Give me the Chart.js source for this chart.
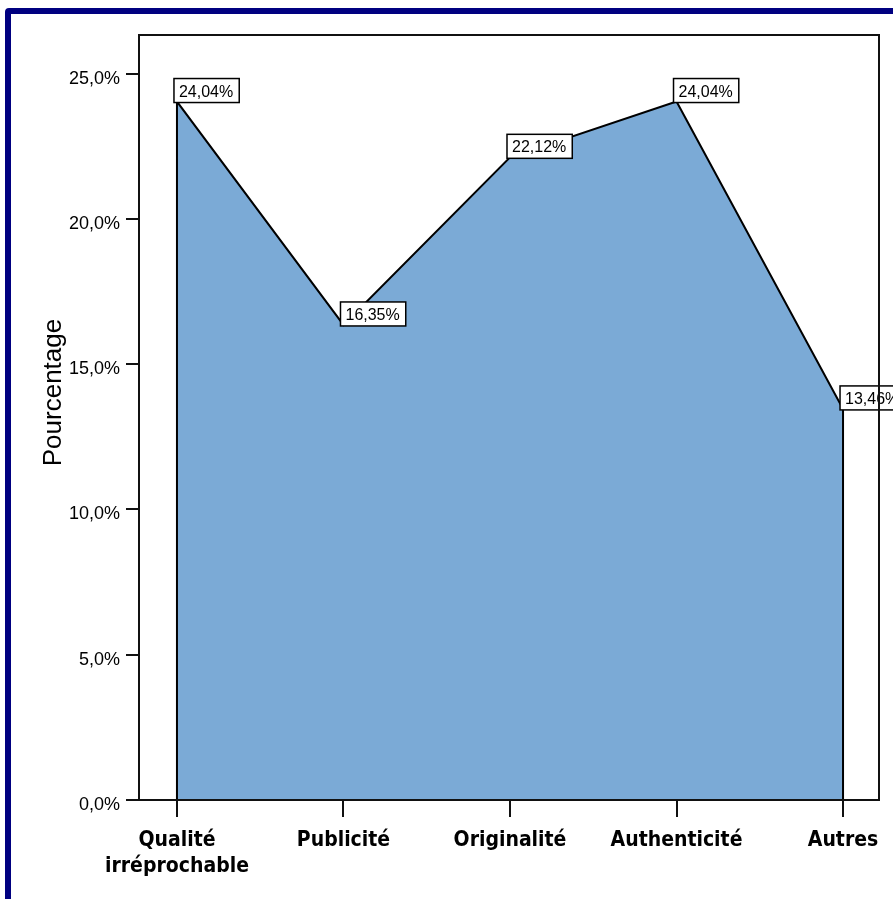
<!DOCTYPE html>
<html lang="fr">
<head>
<meta charset="utf-8">
<title>Pourcentage par critère</title>
<script src="https://cdn.jsdelivr.net/npm/chart.js@4/dist/chart.umd.min.js"></script>
<style>
  html, body { margin: 0; padding: 0; background: #fff; }
  body { width: 893px; height: 899px; position: relative; overflow: hidden; }
  #frame {
    position: absolute; left: 5px; top: 8px; width: 1000px; height: 1000px;
    border: 6px solid #000080; border-radius: 4px; box-sizing: border-box;
  }
  #wrap { position: absolute; left: 0; top: 0; width: 893px; height: 899px; }
</style>
</head>
<body>
<div id="frame"></div>
<div id="wrap"><canvas id="chart" width="893" height="899"></canvas></div>
<script>
// Categories along the horizontal axis
const categories = [["Qualité", "irréprochable"], "Publicité", "Originalité", "Authenticité", "Autres"];
// Share of responses per category (%)
const percentages = [24.04, 16.35, 22.12, 24.04, 13.46];
// Vertical axis tick values (%)
const yTickValues = [0, 5, 10, 15, 20, 25];
const yAxisTitle = "Pourcentage";

const AREA_FILL = "#7BAAD6";
const fmt = (v, d) => v.toFixed(d).replace(".", ",") + "%";

// Closed outline: the area starts and ends on the baseline
const outline = [{ x: 0, y: 0 }]
  .concat(percentages.map((v, i) => ({ x: i, y: v })))
  .concat([{ x: percentages.length - 1, y: 0 }]);

const plotFrame = {
  id: "plotFrame",
  afterDatasetsDraw(chart) {
    const { ctx, chartArea: a } = chart;
    ctx.save();
    ctx.strokeStyle = "#111";
    ctx.lineWidth = 2;
    ctx.strokeRect(a.left, a.top, a.right - a.left, a.bottom - a.top);
    ctx.restore();
  }
};

const valueBoxes = {
  id: "valueBoxes",
  afterDatasetsDraw(chart) {
    const { ctx, scales: { x, y } } = chart;
    ctx.save();
    ctx.font = "16px 'Liberation Sans', Arial, sans-serif";
    ctx.textBaseline = "alphabetic";
    percentages.forEach((v, i) => {
      const px = x.getPixelForValue(i);
      const py = y.getPixelForValue(v);
      const txt = fmt(v, 2);
      const w = ctx.measureText(txt).width + 11;
      const h = 24;
      const left = px - 3, top = py - h + 1;
      ctx.fillStyle = "#fff";
      ctx.fillRect(left, top, w, h);
      ctx.strokeStyle = "#000";
      ctx.lineWidth = 1.5;
      ctx.strokeRect(left, top, w, h);
      ctx.fillStyle = "#000";
      ctx.fillText(txt, left + 5, top + 18);
    });
    ctx.restore();
  }
};

const yTitle = {
  id: "yTitle",
  afterDraw(chart) {
    const { ctx, chartArea: a } = chart;
    ctx.save();
    ctx.translate(54, (a.top + a.bottom) / 2 - 25);
    ctx.rotate(-Math.PI / 2);
    ctx.font = "26px 'Liberation Sans', Arial, sans-serif";
    ctx.fillStyle = "#000";
    ctx.textAlign = "center";
    ctx.textBaseline = "middle";
    ctx.fillText(yAxisTitle, 0, 0);
    ctx.restore();
  }
};

new Chart(document.getElementById("chart"), {
  type: "line",
  data: {
    datasets: [{
      data: outline,
      borderColor: "#000",
      borderWidth: 2,
      backgroundColor: AREA_FILL,
      fill: "origin",
      pointRadius: 0,
      tension: 0
    }]
  },
  options: {
    responsive: false,
    animation: false,
    events: [],
    layout: { padding: { top: 35, right: 14, left: 0, bottom: 0 } },
    plugins: { legend: { display: false }, tooltip: { enabled: false } },
    scales: {
      x: {
        type: "linear",
        min: -0.228,
        max: 4.216,
        afterFit(s) { s.height = 99; },
        afterBuildTicks(s) { s.ticks = categories.map((_, i) => ({ value: i })); },
        border: { display: true, color: "#111", width: 2 },
        grid: { drawOnChartArea: false, drawTicks: true, tickLength: 17, color: "#111", lineWidth: 2 },
        ticks: {
          includeBounds: false,
          autoSkip: false,
          maxRotation: 0,
          padding: 10,
          color: "#000",
          font: { family: "'DejaVu Sans Condensed', 'DejaVu Sans', sans-serif", size: 21, weight: "bold", lineHeight: 1.25 },
          callback: (v) => categories[v]
        }
      },
      y: {
        type: "linear",
        min: 0,
        max: 26.33,
        afterFit(s) { s.width = 139; },
        afterBuildTicks(s) { s.ticks = yTickValues.map(v => ({ value: v })); },
        border: { display: true, color: "#111", width: 2 },
        grid: { drawOnChartArea: false, drawTicks: true, tickLength: 13, color: "#111", lineWidth: 2 },
        ticks: {
          includeBounds: false,
          padding: 6,
          labelOffset: 5,
          color: "#000",
          font: { family: "'Liberation Sans', Arial, sans-serif", size: 18 },
          callback: (v) => fmt(v, 1)
        }
      }
    }
  },
  plugins: [valueBoxes, plotFrame, yTitle]
});
</script>
</body>
</html>
